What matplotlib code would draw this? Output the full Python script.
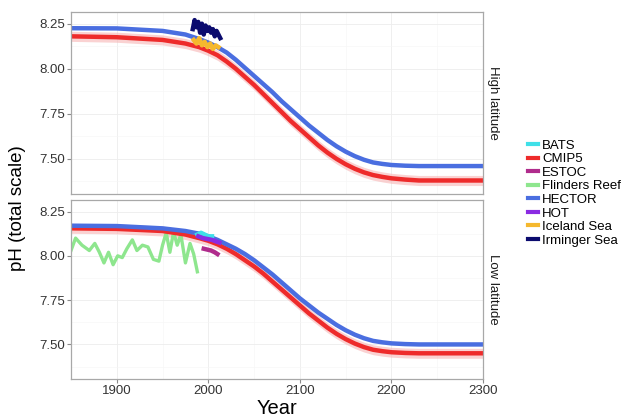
import numpy as np
import matplotlib
matplotlib.use("Agg")
from matplotlib import pyplot as plt
from matplotlib.lines import Line2D

plt.rcParams['font.family'] = ['Liberation Sans', 'DejaVu Sans']

# model runs
model_years = [1850, 1900, 1950, 1975, 1990, 2000, 2010, 2020, 2030, 2040,
               2050, 2060, 2070, 2080, 2090, 2100, 2110, 2120, 2130, 2140,
               2150, 2160, 2170, 2180, 2190, 2200, 2215, 2230, 2300]
hector_high = [8.225, 8.224, 8.21, 8.19, 8.165, 8.145, 8.12, 8.09, 8.05, 8.005,
               7.96, 7.915, 7.87, 7.82, 7.775, 7.73, 7.685, 7.645, 7.605, 7.57,
               7.54, 7.515, 7.495, 7.48, 7.472, 7.466, 7.462, 7.46, 7.46]
cmip5_high = [8.18, 8.175, 8.16, 8.14, 8.12, 8.10, 8.075, 8.04, 8.00, 7.955,
              7.91, 7.86, 7.81, 7.76, 7.71, 7.665, 7.62, 7.575, 7.535, 7.50,
              7.47, 7.445, 7.425, 7.41, 7.40, 7.392, 7.385, 7.38, 7.38]
hector_low = [8.17, 8.168, 8.155, 8.14, 8.125, 8.11, 8.09, 8.065, 8.04, 8.01,
              7.975, 7.935, 7.895, 7.85, 7.805, 7.76, 7.72, 7.68, 7.645, 7.61,
              7.58, 7.555, 7.535, 7.52, 7.512, 7.506, 7.502, 7.50, 7.50]
cmip5_low = [8.155, 8.152, 8.14, 8.12, 8.10, 8.085, 8.065, 8.04, 8.01, 7.975,
             7.94, 7.90, 7.855, 7.81, 7.765, 7.72, 7.675, 7.635, 7.595, 7.56,
             7.53, 7.505, 7.485, 7.47, 7.462, 7.456, 7.452, 7.45, 7.45]
cmip5_spread = 0.028

# observations
irminger_years = [1983, 1985, 1987, 1989, 1991, 1993, 1995, 1997, 1999, 2001,
                  2003, 2005, 2007, 2009, 2011, 2013]
irminger_ph = [8.22, 8.27, 8.23, 8.26, 8.20, 8.25, 8.19, 8.24, 8.21, 8.23,
               8.20, 8.22, 8.18, 8.21, 8.19, 8.17]
iceland_years = [1984, 1987, 1990, 1993, 1996, 1999, 2002, 2005, 2008, 2011]
iceland_ph = [8.16, 8.14, 8.17, 8.13, 8.15, 8.12, 8.14, 8.11, 8.13, 8.12]
flinders_years = [1850, 1855, 1862, 1870, 1876, 1881, 1886, 1891, 1896, 1901,
                  1906, 1911, 1917, 1922, 1928, 1934, 1940, 1946, 1950, 1954,
                  1958, 1962, 1966, 1970, 1975, 1980, 1984, 1988]
flinders_ph = [8.03, 8.10, 8.06, 8.03, 8.07, 8.02, 7.96, 8.02, 7.95, 8.00,
               7.99, 8.04, 8.09, 8.03, 8.06, 8.05, 7.98, 7.97, 8.06, 8.13,
               8.02, 8.135, 8.06, 8.12, 7.96, 8.07, 8.01, 7.91]
bats_years = [1988, 1992, 1996, 2000, 2004]
bats_ph = [8.12, 8.13, 8.12, 8.11, 8.11]
estoc_years = [1995, 1999, 2003, 2007, 2010]
estoc_ph = [8.04, 8.035, 8.03, 8.02, 8.01]
hot_years = [1989, 1994, 1999, 2004, 2009, 2012]
hot_ph = [8.11, 8.10, 8.095, 8.09, 8.08, 8.075]

colors = {
    'BATS': '#3FE0E8',
    'CMIP5': '#EE2B2B',
    'ESTOC': '#B02C8C',
    'Flinders Reef': '#8EE68E',
    'HECTOR': '#4A6EE0',
    'HOT': '#8A2BE2',
    'Iceland Sea': '#F5B82E',
    'Irminger Sea': '#0B0B6E',
}

fig = plt.figure(figsize=(6.33, 4.17), dpi=100)
ax_hi = fig.add_axes([71 / 633, 1 - 194 / 417, 412 / 633, 182 / 417])
ax_lo = fig.add_axes([71 / 633, 1 - 379 / 417, 412 / 633, 179 / 417])

lw = 3.2


def style(ax, strip):
    ax.set_xlim(1850, 2300)
    ax.set_ylim(7.305, 8.315)
    ax.set_yticks([7.50, 7.75, 8.00, 8.25])
    ax.set_yticklabels(['7.50', '7.75', '8.00', '8.25'])
    ax.set_xticks([1900, 2000, 2100, 2200, 2300])
    ax.set_xticks([1850, 1950, 2050, 2150, 2250], minor=True)
    ax.set_yticks([7.375, 7.625, 7.875, 8.125], minor=True)
    ax.grid(True, which='major', color='#EDEDED', lw=0.6)
    ax.grid(True, which='minor', color='#F6F6F6', lw=0.4)
    ax.set_axisbelow(True)
    for s in ax.spines.values():
        s.set_color('#A8A8A8')
        s.set_linewidth(0.9)
    ax.tick_params(which='major', length=3, color='#8A8A8A', labelsize=9.5,
                   labelcolor='#333333', pad=1.5)
    ax.tick_params(which='minor', length=0)
    ax.text(1.025, 0.5, strip, transform=ax.transAxes, rotation=270,
            ha='center', va='center', fontsize=9.5, color='#1A1A1A')


# high latitude
lo = np.array(cmip5_high) - cmip5_spread
hi = np.array(cmip5_high) + cmip5_spread
ax_hi.fill_between(model_years, lo, hi, color='#F7B4B4', alpha=0.6, lw=0)
ax_hi.plot(model_years, cmip5_high, color=colors['CMIP5'], lw=lw)
ax_hi.plot(model_years, hector_high, color=colors['HECTOR'], lw=lw)
ax_hi.plot(iceland_years, iceland_ph, color=colors['Iceland Sea'], lw=lw)
ax_hi.plot(irminger_years, irminger_ph, color=colors['Irminger Sea'], lw=lw)
style(ax_hi, 'High latitude')
ax_hi.tick_params(labelbottom=False, length=0, axis='x')

# low latitude
lo = np.array(cmip5_low) - cmip5_spread
hi = np.array(cmip5_low) + cmip5_spread
ax_lo.fill_between(model_years, lo, hi, color='#F7B4B4', alpha=0.6, lw=0)
ax_lo.plot(flinders_years, flinders_ph, color=colors['Flinders Reef'], lw=2.4)
ax_lo.plot(model_years, cmip5_low, color=colors['CMIP5'], lw=lw)
ax_lo.plot(model_years, hector_low, color=colors['HECTOR'], lw=lw)
ax_lo.plot(bats_years, bats_ph, color=colors['BATS'], lw=lw)
ax_lo.plot(hot_years, hot_ph, color=colors['HOT'], lw=lw)
ax_lo.plot(estoc_years, estoc_ph, color=colors['ESTOC'], lw=lw)
style(ax_lo, 'Low latitude')

ax_lo.set_xlabel('Year', fontsize=14.5, labelpad=1)
fig.text(0.027, 0.5, 'pH (total scale)', rotation=90, ha='center',
         va='center', fontsize=13.5)

handles = [Line2D([], [], color=c, lw=3) for c in colors.values()]
fig.legend(handles, list(colors.keys()), loc='center left',
           bbox_to_anchor=(0.825, 0.537), frameon=False, fontsize=9.5,
           handlelength=0.8, handletextpad=0.3, labelspacing=0.1,
           borderaxespad=0)

fig.savefig('out.png', dpi=100)
